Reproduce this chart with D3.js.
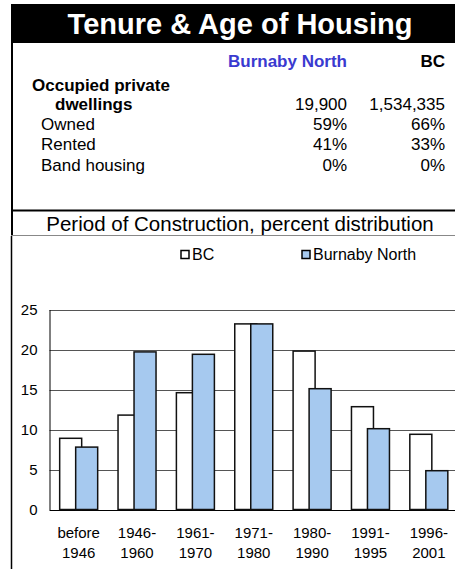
<html>
<head>
<meta charset="utf-8">
<style>
  body { margin: 0; background: #fff; }
  text { font-family: "Liberation Sans", Arial, sans-serif; }
</style>
</head>
<body>
<script src="https://d3js.org/d3.v7.min.js"></script>
<div id="my_dataviz"></div>
<script>
// table data
var regionNames = ["Burnaby North", "BC"];
var rowLabels = ["Owned", "Rented", "Band housing"];
var dwellings = ["19,900", "1,534,335"];
var burnabyShares = ["59%", "41%", "0%"];
var bcShares = ["66%", "33%", "0%"];

// chart data (percent distribution by period of construction)
var periods = ["before 1946", "1946-1960", "1961-1970", "1971-1980", "1980-1990", "1991-1995", "1996-2001"];
var periodLines = [["before", "1946"], ["1946-", "1960"], ["1961-", "1970"], ["1971-", "1980"], ["1980-", "1990"], ["1991-", "1995"], ["1996-", "2001"]];
var bcValues = [8.9, 11.8, 14.6, 23.2, 19.8, 12.85, 9.4];
var burnabyValues = [7.8, 19.7, 19.4, 23.2, 15.1, 10.1, 4.85];
var yTicks = [0, 5, 10, 15, 20, 25];

var W = 455, H = 569;
var svg = d3.select("#my_dataviz").append("svg")
    .attr("width", W).attr("height", H);

// title bar
svg.append("rect").attr("x", 11).attr("y", 4).attr("width", W - 11).attr("height", 39).attr("fill", "#000");
svg.append("text").attr("x", 240).attr("y", 33.5).attr("text-anchor", "middle")
    .attr("fill", "#fff").style("font-weight", "bold").style("font-size", "29px")
    .text("Tenure & Age of Housing");

// frame lines
svg.append("line").attr("x1", 12).attr("x2", 12).attr("y1", 43).attr("y2", 236).attr("stroke", "#000").attr("stroke-width", 2);
svg.append("line").attr("x1", 11).attr("x2", W).attr("y1", 210.5).attr("y2", 210.5).attr("stroke", "#000").attr("stroke-width", 2);
svg.append("line").attr("x1", 11).attr("x2", W).attr("y1", 235.5).attr("y2", 235.5).attr("stroke", "#888").attr("stroke-width", 1);
svg.append("line").attr("x1", 11.5).attr("x2", 11.5).attr("y1", 236).attr("y2", H).attr("stroke", "#000").attr("stroke-width", 1.5);

// table
var tbl = svg.append("g").style("font-size", "17px");
tbl.append("text").attr("x", 347).attr("y", 67).attr("text-anchor", "end")
    .attr("fill", "#3a3ad0").style("font-weight", "bold").text(regionNames[0]);
tbl.append("text").attr("x", 445).attr("y", 67).attr("text-anchor", "end")
    .style("font-weight", "bold").text(regionNames[1]);
tbl.append("text").attr("x", 32).attr("y", 91).style("font-weight", "bold").text("Occupied private");
tbl.append("text").attr("x", 55).attr("y", 110).style("font-weight", "bold").text("dwellings");
tbl.append("text").attr("x", 347).attr("y", 110).attr("text-anchor", "end").text(dwellings[0]);
tbl.append("text").attr("x", 445).attr("y", 110).attr("text-anchor", "end").text(dwellings[1]);

rowLabels.forEach(function(lbl, i) {
    var yy = 129.5 + i * 20.7;
    tbl.append("text").attr("x", 41).attr("y", yy).text(lbl);
    tbl.append("text").attr("x", 347).attr("y", yy).attr("text-anchor", "end").text(burnabyShares[i]);
    tbl.append("text").attr("x", 445).attr("y", yy).attr("text-anchor", "end").text(bcShares[i]);
});

svg.append("text").attr("x", 240).attr("y", 231).attr("text-anchor", "middle")
    .style("font-size", "20.5px").text("Period of Construction, percent distribution");

// legend
var legend = [{name: "BC", fill: "#fff", x: 181}, {name: "Burnaby North", fill: "#a6c9ef", x: 302}];
legend.forEach(function(l) {
    svg.append("rect").attr("x", l.x).attr("y", 250.5).attr("width", 8).attr("height", 8)
        .attr("fill", l.fill).attr("stroke", "#000").attr("stroke-width", 1.5);
    svg.append("text").attr("x", l.x + 11).attr("y", 260).style("font-size", "16px").text(l.name);
});

// scales
var x = d3.scaleBand().domain(periods).range([49.5, 458]);
var y = d3.scaleLinear().domain([0, 25]).range([509.5, 309.5]);

// gridlines
svg.append("g").selectAll("line").data(yTicks).enter().append("line")
    .attr("x1", 49.5).attr("x2", W)
    .attr("y1", function(d) { return Math.round(y(d)) + 0.5; })
    .attr("y2", function(d) { return Math.round(y(d)) + 0.5; })
    .attr("stroke", function(d) { return d === 0 ? "#000" : "#555"; })
    .attr("stroke-width", 1);

// y axis
var yAxis = svg.append("g").attr("transform", "translate(49.5,0)")
    .call(d3.axisLeft(y).tickValues(yTicks).tickSize(0).tickPadding(12));
yAxis.select(".domain").attr("stroke", "#000");
yAxis.selectAll("text").style("font-size", "15px").attr("fill", "#000")
    .style("font-family", "'Liberation Sans', Arial, sans-serif");

// bars
var barW = 22;
svg.append("g").selectAll("rect").data(periods).enter().append("rect")
    .attr("x", function(d) { return x(d) + x.bandwidth() / 2 - 19; })
    .attr("y", function(d, i) { return y(bcValues[i]); })
    .attr("width", barW)
    .attr("height", function(d, i) { return y(0) - y(bcValues[i]); })
    .attr("fill", "#fff").attr("stroke", "#111").attr("stroke-width", 1.5);

svg.append("g").selectAll("rect").data(periods).enter().append("rect")
    .attr("x", function(d) { return x(d) + x.bandwidth() / 2 - 3; })
    .attr("y", function(d, i) { return y(burnabyValues[i]); })
    .attr("width", barW)
    .attr("height", function(d, i) { return y(0) - y(burnabyValues[i]); })
    .attr("fill", "#a6c9ef").attr("stroke", "#111").attr("stroke-width", 1.5);

// x labels
var xl = svg.append("g").style("font-size", "15px");
periods.forEach(function(p, i) {
    var cx = x(p) + x.bandwidth() / 2;
    xl.append("text").attr("x", cx).attr("y", 538).attr("text-anchor", "middle").text(periodLines[i][0]);
    xl.append("text").attr("x", cx).attr("y", 558).attr("text-anchor", "middle").text(periodLines[i][1]);
});
</script>
</body>
</html>
